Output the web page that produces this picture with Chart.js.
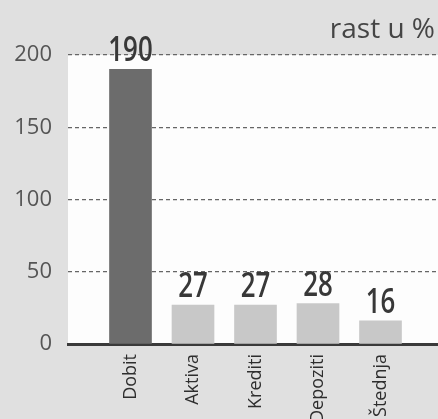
<!DOCTYPE html>
<html>
<head>
<meta charset="utf-8">
<script src="https://cdn.jsdelivr.net/npm/chart.js@4/dist/chart.umd.min.js"></script>
<style>
html,body{margin:0;padding:0;background:#e0e0e0;overflow:hidden}
#wrap{width:438px;height:419px;position:relative}
</style>
</head>
<body>
<div id="wrap"><canvas id="c" width="438" height="419"></canvas></div>
<script>
// ---- data ----
const categories = ['Dobit', 'Aktiva', 'Krediti', 'Depoziti', 'Štednja'];
const values = [190, 27, 27, 28, 16];
const valueLabels = ['190', '27', '27', '28', '16'];
const yTickValues = [0, 50, 100, 150, 200];
const unitLabel = 'rast u %';

// ---- plugins ----
const backgroundPlugin = {
  id: 'paper',
  beforeDraw(chart) {
    const {ctx, chartArea: a} = chart;
    ctx.save();
    ctx.fillStyle = '#e0e0e0';
    ctx.fillRect(0, 0, chart.width, chart.height);
    ctx.fillStyle = '#fdfdfd';
    ctx.fillRect(a.left, a.top, a.right - a.left, a.bottom - a.top);
    ctx.restore();
  }
};

const valueLabelPlugin = {
  id: 'valueLabels',
  afterDatasetsDraw(chart) {
    const ctx = chart.ctx;
    const meta = chart.getDatasetMeta(0);
    ctx.save();
    ctx.fillStyle = '#383838';
    ctx.font = '600 34px "Open Sans", sans-serif';
    ctx.textAlign = 'center';
    ctx.textBaseline = 'alphabetic';
    meta.data.forEach((bar, i) => {
      ctx.save();
      ctx.translate(bar.x, bar.y - 8);
      ctx.scale(0.76, 1);
      ctx.fillText(valueLabels[i], 0, 0);
      ctx.restore();
    });
    // unit label top-right
    ctx.font = '28px "Open Sans", sans-serif';
    ctx.fillStyle = '#454545';
    ctx.textAlign = 'right';
    ctx.fillText(unitLabel, chart.chartArea.right - 3, 38);
    ctx.restore();
  }
};

// ---- chart ----
new Chart(document.getElementById('c'), {
  type: 'bar',
  data: {
    datasets: [{
      data: values.map((v, i) => ({x: i + 1, y: v})),
      backgroundColor: (c) => c.dataIndex === 0 ? '#6c6c6c' : '#c8c8c8',
      borderWidth: 0,
      barThickness: 42
    }]
  },
  options: {
    responsive: false,
    devicePixelRatio: 1,
    animation: false,
    layout: {padding: {top: 55, left: 0, right: 0, bottom: 0}},
    plugins: {legend: {display: false}, tooltip: {enabled: false}},
    scales: {
      x: {
        type: 'linear',
        offset: false,
        min: 0,
        max: 5.92,
        grid: {display: false, drawTicks: false, offset: false},
        border: {display: true, width: 3, color: '#3a3a3a'},
        afterBuildTicks(scale) {
          scale.ticks = categories.map((_, i) => ({value: i + 1}));
        },
        afterFit(scale) { scale.height = 75; scale.paddingLeft = 0; scale.paddingRight = 0; },
        ticks: {
          autoSkip: false,
          minRotation: 90,
          maxRotation: 90,
          padding: 10,
          color: '#2e2e2e',
          font: {family: '"Open Sans", sans-serif', size: 18},
          callback: (v) => categories[v - 1] ?? ''
        }
      },
      y: {
        min: 0,
        max: 200,
        afterBuildTicks(scale) {
          scale.ticks = yTickValues.map(v => ({value: v}));
        },
        afterFit(scale) { scale.width = 68; },
        grid: {
          drawTicks: false,
          lineWidth: 1.3,
          color: (c) => c.tick && c.tick.value === 0 ? 'rgba(0,0,0,0)' : '#666'
        },
        border: {display: false, dash: [4, 3]},
        ticks: {
          padding: 16,
          color: '#555',
          font: {family: '"Open Sans", sans-serif', size: 22}
        }
      }
    }
  },
  plugins: [backgroundPlugin, valueLabelPlugin]
});
</script>
</body>
</html>
